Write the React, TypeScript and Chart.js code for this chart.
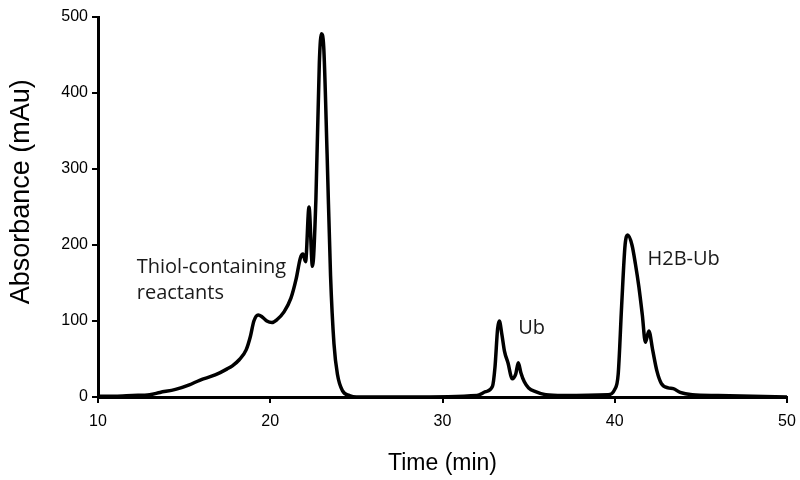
import React, { useEffect, useRef } from "react";
import { Chart, registerables } from "chart.js";

Chart.register(...registerables);

const timeMin: number[] = [
  10.0, 11.0, 12.0, 13.0, 13.6, 14.5, 15.3, 15.9, 16.8, 17.5, 17.8, 18.2, 18.6, 18.85, 19.05, 19.3, 19.5, 19.8, 20.1, 20.4,
  20.8, 21.2, 21.5, 21.75, 21.9, 22.05, 22.25, 22.45, 22.65, 22.85, 22.97, 23.1, 23.3, 23.5, 23.7, 23.9, 24.2, 24.6, 25.0, 28.0,
  32.0, 32.5, 32.9, 33.05, 33.2, 33.3, 33.45, 33.6, 33.8, 34.05, 34.25, 34.4, 34.55, 34.75, 35.0, 35.4, 36.0, 37.0, 39.6, 40.0,
  40.2, 40.4, 40.6, 40.75, 41.0, 41.2, 41.4, 41.6, 41.78, 41.98, 42.2, 42.45, 42.7, 43.1, 43.4, 43.8, 44.5, 46.0, 50.0,
];
const absorbance: number[] = [
  1, 1, 2, 3, 6, 10, 16, 22, 29, 37, 41, 49, 62, 80, 100, 108, 106, 100, 98, 102,
  112, 130, 155, 183, 188, 178, 250, 172, 260, 440, 478, 462, 320, 160, 70, 30, 8, 2, 0, 0,
  2, 7, 14, 40, 90, 100, 82, 60, 45, 24, 30, 45, 32, 20, 12, 7, 3, 2, 3, 10,
  30, 120, 200, 213, 200, 175, 145, 108, 72, 87, 62, 34, 18, 12, 11, 6, 3, 2, 0,
];

const xTicks: number[] = [10, 20, 30, 40, 50];
const yTicks: number[] = [0, 100, 200, 300, 400, 500];

const peakLabels: string[][] = [["Thiol-containing", "reactants"], ["Ub"], ["H2B-Ub"]];
const labelTime: number[] = [12.25, 34.4, 41.9];
const labelAbs: number[] = [171, 90, 181];

const yTitle = "Absorbance (mAu)";
const xTitle = "Time (min)";

export default function App() {
  const ref = useRef<HTMLCanvasElement | null>(null);

  useEffect(() => {
    document.body.style.margin = "0";
    const canvas = ref.current;
    if (!canvas) return;

    const textPlugin = {
      id: "peakText",
      afterDraw(chart: any) {
        const { ctx, scales } = chart;
        ctx.save();
        ctx.fillStyle = "#1a1a1a";
        ctx.font = '20px "Open Sans"';
        ctx.textAlign = "left";
        ctx.textBaseline = "middle";
        peakLabels.forEach((lines, i) => {
          const px = scales.x.getPixelForValue(labelTime[i]);
          const py = scales.y.getPixelForValue(labelAbs[i]);
          lines.forEach((line, j) => {
            ctx.fillText(line, px, py + j * 26);
          });
        });
        // y axis title
        ctx.fillStyle = "#000";
        ctx.font = '27px "Liberation Sans"';
        ctx.textAlign = "center";
        ctx.translate(22, scales.y.getPixelForValue(270));
        ctx.rotate(-Math.PI / 2);
        ctx.fillText(yTitle, 0, 0);
        ctx.restore();
      },
    };

    const chart = new Chart(canvas, {
      type: "line",
      data: {
        datasets: [
          {
            data: timeMin.map((t, i) => ({ x: t, y: absorbance[i] })),
            borderColor: "#000",
            borderWidth: 3.5,
            pointRadius: 0,
            fill: false,
            cubicInterpolationMode: "monotone",
          },
        ],
      },
      options: {
        animation: false,
        responsive: false,
        layout: { padding: { top: 17, right: 13, left: 0, bottom: 0 } },
        plugins: { legend: { display: false }, tooltip: { enabled: false } },
        scales: {
          x: {
            type: "linear",
            min: 10,
            max: 50,
            afterBuildTicks: (s: any) => {
              s.ticks = xTicks.map((v) => ({ value: v }));
            },
            afterFit: (s: any) => {
              s.height = 83;
              s.paddingLeft = 0;
              s.paddingRight = 0;
            },
            border: { display: true, color: "#000", width: 3 },
            grid: { display: true, drawOnChartArea: false, drawTicks: true, tickLength: 6, color: "#000", lineWidth: 2 },
            ticks: { color: "#000", font: { family: "Liberation Sans", size: 16 }, padding: 9, maxRotation: 0 },
            title: {
              display: true,
              text: xTitle,
              color: "#000",
              font: { family: "Liberation Sans", size: 23 },
              padding: { top: 0, bottom: 3 },
            },
          },
          y: {
            type: "linear",
            min: 0,
            max: 500,
            afterBuildTicks: (s: any) => {
              s.ticks = yTicks.map((v) => ({ value: v }));
            },
            afterFit: (s: any) => {
              s.width = 98;
              s.paddingTop = 0;
              s.paddingBottom = 0;
            },
            border: { display: true, color: "#000", width: 3 },
            grid: { display: true, drawOnChartArea: false, drawTicks: true, tickLength: 6, color: "#000", lineWidth: 2 },
            ticks: { color: "#000", font: { family: "Liberation Sans", size: 16 }, padding: 4 },
          },
        },
      },
      plugins: [textPlugin],
    } as any);

    return () => chart.destroy();
  }, []);

  return (
    <div style={{ width: 800, height: 480 }}>
      <canvas ref={ref} width={800} height={480} style={{ display: "block" }} />
    </div>
  );
}
